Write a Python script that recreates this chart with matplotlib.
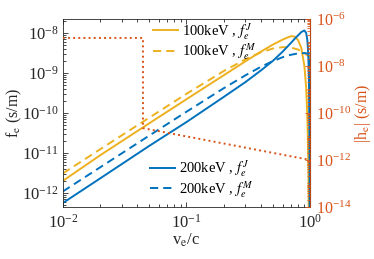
import numpy as np
import matplotlib
matplotlib.use("Agg")
import matplotlib.pyplot as plt
from matplotlib.ticker import LogLocator, FixedLocator, NullFormatter, LogFormatterSciNotation

plt.rcParams['font.family'] = ['Liberation Serif', 'DejaVu Serif']
plt.rcParams['mathtext.fontset'] = 'stix'

# v_e/c grid for the Juttner curves
beta_j = [0.01, 0.02, 0.05, 0.1, 0.2, 0.3, 0.4, 0.5, 0.6, 0.7, 0.75, 0.8,
          0.85, 0.9, 0.93, 0.95, 0.96, 0.97, 0.98, 0.99, 0.995]
fj_100 = [2.0e-12, 8.7e-12, 5.5e-11, 2.2e-10, 8.7e-10, 1.95e-9, 3.4e-9, 5.1e-9,
          6.8e-9, 8.3e-9, 8.1e-9, 6.6e-9, 4.2e-9, 1.5e-9, 4.3e-10, 8.7e-11,
          2.3e-11, 3.0e-12, 8e-14, 2e-16, 1e-20]
fj_200 = [5.6e-13, 2.3e-12, 1.5e-11, 5.9e-11, 2.5e-10, 5.9e-10, 1.15e-9, 2.0e-9,
          3.4e-9, 5.6e-9, 7.1e-9, 8.7e-9, 1.05e-8, 1.15e-8, 1.0e-8, 6.8e-9,
          4.4e-9, 2.3e-9, 6.2e-10, 1.8e-11, 6e-14]

# v_e/c grid for the Maxwell curves (last point closes the curve at v=c)
beta_m = [0.01, 0.02, 0.05, 0.1, 0.2, 0.3, 0.4, 0.5, 0.6, 0.7, 0.8, 0.9, 1.0, 1.0]
fm_100 = [3.07e-12, 1.23e-11, 7.6e-11, 3.0e-10, 1.11e-9, 2.19e-9, 3.27e-9, 4.06e-9,
          4.41e-9, 4.31e-9, 3.84e-9, 3.16e-9, 2.4e-9, 1e-20]
fm_200 = [1.09e-12, 4.35e-12, 2.71e-11, 1.07e-10, 4.13e-10, 8.7e-10, 1.42e-9, 1.97e-9,
          2.47e-9, 2.84e-9, 3.07e-9, 3.13e-9, 3.03e-9, 1e-20]

# |h_e| on the right axis
beta_h = [0.01, 0.0445, 0.0445, 1.0]
h_e = [1.55e-7, 1.55e-7, 2.25e-11, 1.0e-12]

blue = '#0072BD'
orange = '#EDB120'
red = '#D95319'
grey = '#262626'

fig = plt.figure(figsize=(3.74, 2.59), dpi=100)
ax = fig.add_axes([0.168, 0.201, 0.661, 0.726])
ax2 = ax.twinx()

dash = (4.2, 2.6)
l1, = ax.plot(beta_j, fj_100, '-', color=orange, lw=1.4)
l2, = ax.plot(beta_m, fm_100, '--', dashes=dash, color=orange, lw=1.4)
l3, = ax.plot(beta_j, fj_200, '-', color=blue, lw=1.4)
l4, = ax.plot(beta_m, fm_200, '--', dashes=dash, color=blue, lw=1.4)
ax2.plot(beta_h, h_e, ':', color=red, lw=1.4)

ax.set_xscale('log')
ax.set_yscale('log')
ax2.set_yscale('log')
ax.set_xlim(0.01, 1)
ax.set_ylim(10**-12.35, 10**-7.65)
ax2.set_ylim(1e-14, 1e-6)

ax.xaxis.set_major_locator(FixedLocator([0.01, 0.1, 1]))
ax.xaxis.set_major_formatter(LogFormatterSciNotation())
ax.xaxis.set_minor_locator(LogLocator(base=10, subs=np.arange(2, 10)))
ax.xaxis.set_minor_formatter(NullFormatter())
ax.yaxis.set_major_locator(FixedLocator([1e-12, 1e-11, 1e-10, 1e-9, 1e-8]))
ax.yaxis.set_major_formatter(LogFormatterSciNotation())
ax.yaxis.set_minor_locator(LogLocator(base=10, subs=np.arange(2, 10), numticks=20))
ax.yaxis.set_minor_formatter(NullFormatter())
ax2.yaxis.set_major_locator(FixedLocator([1e-14, 1e-12, 1e-10, 1e-8, 1e-6]))
ax2.yaxis.set_major_formatter(LogFormatterSciNotation())
ax2.yaxis.set_minor_locator(LogLocator(base=10, subs=np.arange(1, 10), numticks=20))
ax2.yaxis.set_minor_formatter(NullFormatter())

ax.tick_params(which='both', direction='in', top=True, right=False, colors=grey, labelsize=12, width=0.6)
ax.tick_params(which='major', length=3.5, pad=3)
ax.tick_params(axis='x', which='major', pad=5)
ax.tick_params(which='minor', length=2)
ax2.tick_params(which='both', direction='in', colors=red, labelsize=11.5, width=0.6)
ax2.tick_params(which='major', length=3.5, pad=4)
ax2.tick_params(which='minor', length=2)

for s in ['left', 'top', 'bottom']:
    ax.spines[s].set_color(grey)
    ax.spines[s].set_linewidth(0.6)
    ax2.spines[s].set_visible(False)
ax2.spines['right'].set_color(red)
ax2.spines['right'].set_linewidth(0.6)

ax.set_xlabel('v$_\\mathrm{e}$/c', fontsize=12, color=grey, va='center')
ax.xaxis.set_label_coords(0.5, -0.18)
ax.set_ylabel('f$_\\mathrm{e}$ (s/m)', fontsize=11.5, color=grey, va='center')
ax.yaxis.set_label_coords(-0.195, 0.5)
ax2.set_ylabel('|h$_\\mathrm{e}$| (s/m)', fontsize=11.5, color=red, va='center', rotation=90)
ax2.yaxis.set_label_coords(1.215, 0.5)

leg1 = ax.legend([l1, l2], ['100keV , $f_e^J$', '100keV , $f_e^M$'], loc='upper left',
                 bbox_to_anchor=(0.365, 0.99), frameon=False, fontsize=10.5, borderpad=0,
                 borderaxespad=0, handlelength=1.7, handletextpad=0.3, labelspacing=0.0)
ax.add_artist(leg1)
ax.legend([l3, l4], ['200keV , $f_e^J$', '200keV , $f_e^M$'], loc='upper left',
          bbox_to_anchor=(0.352, 0.26), frameon=False, fontsize=10.5, borderpad=0,
          borderaxespad=0, handlelength=1.7, handletextpad=0.3, labelspacing=0.0)

fig.savefig('out.png', dpi=100)
